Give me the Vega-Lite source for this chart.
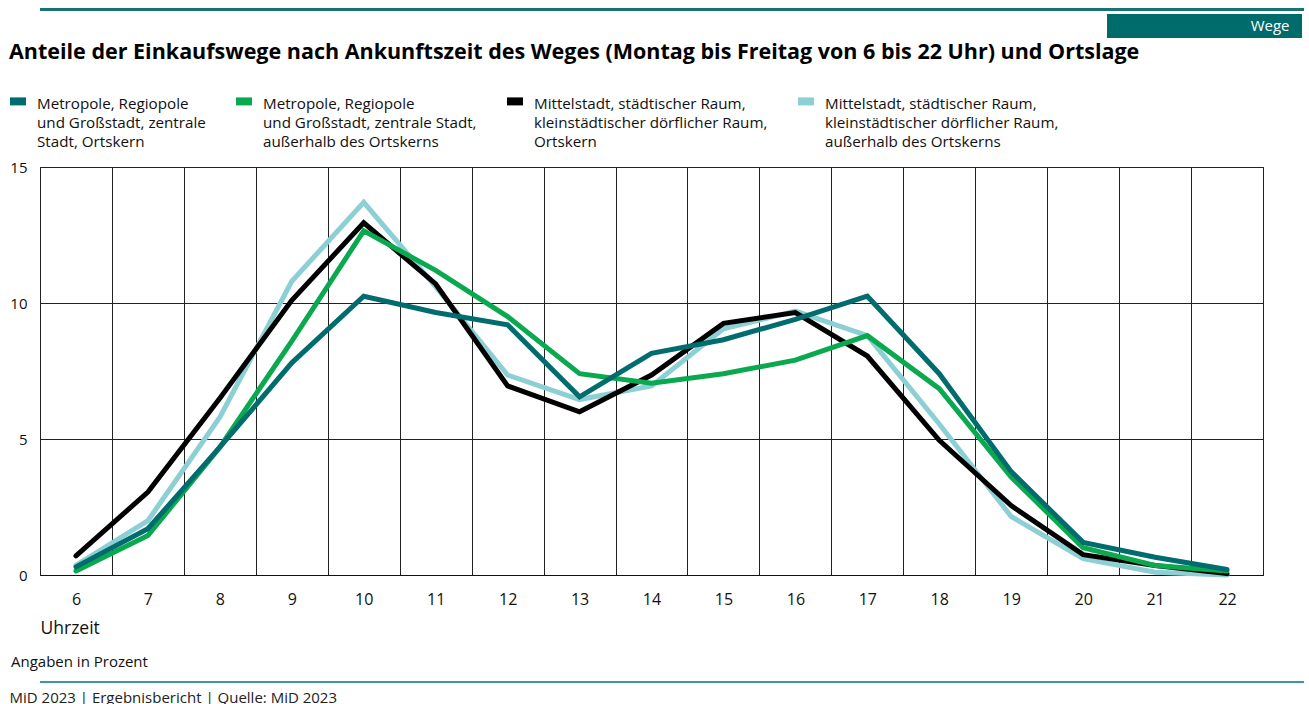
{
  "$schema": "https://vega.github.io/schema/vega-lite/v6.json",
  "padding": {"left": 0, "top": 8, "right": 0, "bottom": 0},
  "background": "white",
  "config": {"font": "Open Sans", "view": {"stroke": null}},
  "datasets": {
    "lines": [
      {"hour": 6, "series": "Mittelstadt, städtischer Raum,|kleinstädtischer dörflicher Raum,|außerhalb des Ortskerns", "value": 0.35},
      {"hour": 7, "series": "Mittelstadt, städtischer Raum,|kleinstädtischer dörflicher Raum,|außerhalb des Ortskerns", "value": 2.0},
      {"hour": 8, "series": "Mittelstadt, städtischer Raum,|kleinstädtischer dörflicher Raum,|außerhalb des Ortskerns", "value": 5.8},
      {"hour": 9, "series": "Mittelstadt, städtischer Raum,|kleinstädtischer dörflicher Raum,|außerhalb des Ortskerns", "value": 10.8},
      {"hour": 10, "series": "Mittelstadt, städtischer Raum,|kleinstädtischer dörflicher Raum,|außerhalb des Ortskerns", "value": 13.7},
      {"hour": 11, "series": "Mittelstadt, städtischer Raum,|kleinstädtischer dörflicher Raum,|außerhalb des Ortskerns", "value": 10.6},
      {"hour": 12, "series": "Mittelstadt, städtischer Raum,|kleinstädtischer dörflicher Raum,|außerhalb des Ortskerns", "value": 7.35},
      {"hour": 13, "series": "Mittelstadt, städtischer Raum,|kleinstädtischer dörflicher Raum,|außerhalb des Ortskerns", "value": 6.45},
      {"hour": 14, "series": "Mittelstadt, städtischer Raum,|kleinstädtischer dörflicher Raum,|außerhalb des Ortskerns", "value": 6.95},
      {"hour": 15, "series": "Mittelstadt, städtischer Raum,|kleinstädtischer dörflicher Raum,|außerhalb des Ortskerns", "value": 9.05},
      {"hour": 16, "series": "Mittelstadt, städtischer Raum,|kleinstädtischer dörflicher Raum,|außerhalb des Ortskerns", "value": 9.7},
      {"hour": 17, "series": "Mittelstadt, städtischer Raum,|kleinstädtischer dörflicher Raum,|außerhalb des Ortskerns", "value": 8.8},
      {"hour": 18, "series": "Mittelstadt, städtischer Raum,|kleinstädtischer dörflicher Raum,|außerhalb des Ortskerns", "value": 5.55},
      {"hour": 19, "series": "Mittelstadt, städtischer Raum,|kleinstädtischer dörflicher Raum,|außerhalb des Ortskerns", "value": 2.15},
      {"hour": 20, "series": "Mittelstadt, städtischer Raum,|kleinstädtischer dörflicher Raum,|außerhalb des Ortskerns", "value": 0.6},
      {"hour": 21, "series": "Mittelstadt, städtischer Raum,|kleinstädtischer dörflicher Raum,|außerhalb des Ortskerns", "value": 0.1},
      {"hour": 22, "series": "Mittelstadt, städtischer Raum,|kleinstädtischer dörflicher Raum,|außerhalb des Ortskerns", "value": 0.0},
      {"hour": 6, "series": "Mittelstadt, städtischer Raum,|kleinstädtischer dörflicher Raum,|Ortskern", "value": 0.7},
      {"hour": 7, "series": "Mittelstadt, städtischer Raum,|kleinstädtischer dörflicher Raum,|Ortskern", "value": 3.05},
      {"hour": 8, "series": "Mittelstadt, städtischer Raum,|kleinstädtischer dörflicher Raum,|Ortskern", "value": 6.5},
      {"hour": 9, "series": "Mittelstadt, städtischer Raum,|kleinstädtischer dörflicher Raum,|Ortskern", "value": 10.1},
      {"hour": 10, "series": "Mittelstadt, städtischer Raum,|kleinstädtischer dörflicher Raum,|Ortskern", "value": 12.95},
      {"hour": 11, "series": "Mittelstadt, städtischer Raum,|kleinstädtischer dörflicher Raum,|Ortskern", "value": 10.7},
      {"hour": 12, "series": "Mittelstadt, städtischer Raum,|kleinstädtischer dörflicher Raum,|Ortskern", "value": 6.95},
      {"hour": 13, "series": "Mittelstadt, städtischer Raum,|kleinstädtischer dörflicher Raum,|Ortskern", "value": 6.0},
      {"hour": 14, "series": "Mittelstadt, städtischer Raum,|kleinstädtischer dörflicher Raum,|Ortskern", "value": 7.35},
      {"hour": 15, "series": "Mittelstadt, städtischer Raum,|kleinstädtischer dörflicher Raum,|Ortskern", "value": 9.25},
      {"hour": 16, "series": "Mittelstadt, städtischer Raum,|kleinstädtischer dörflicher Raum,|Ortskern", "value": 9.65},
      {"hour": 17, "series": "Mittelstadt, städtischer Raum,|kleinstädtischer dörflicher Raum,|Ortskern", "value": 8.05},
      {"hour": 18, "series": "Mittelstadt, städtischer Raum,|kleinstädtischer dörflicher Raum,|Ortskern", "value": 4.95},
      {"hour": 19, "series": "Mittelstadt, städtischer Raum,|kleinstädtischer dörflicher Raum,|Ortskern", "value": 2.55},
      {"hour": 20, "series": "Mittelstadt, städtischer Raum,|kleinstädtischer dörflicher Raum,|Ortskern", "value": 0.75},
      {"hour": 21, "series": "Mittelstadt, städtischer Raum,|kleinstädtischer dörflicher Raum,|Ortskern", "value": 0.35},
      {"hour": 22, "series": "Mittelstadt, städtischer Raum,|kleinstädtischer dörflicher Raum,|Ortskern", "value": 0.05},
      {"hour": 6, "series": "Metropole, Regiopole|und Großstadt, zentrale Stadt,|außerhalb des Ortskerns", "value": 0.15},
      {"hour": 7, "series": "Metropole, Regiopole|und Großstadt, zentrale Stadt,|außerhalb des Ortskerns", "value": 1.45},
      {"hour": 8, "series": "Metropole, Regiopole|und Großstadt, zentrale Stadt,|außerhalb des Ortskerns", "value": 4.7},
      {"hour": 9, "series": "Metropole, Regiopole|und Großstadt, zentrale Stadt,|außerhalb des Ortskerns", "value": 8.6},
      {"hour": 10, "series": "Metropole, Regiopole|und Großstadt, zentrale Stadt,|außerhalb des Ortskerns", "value": 12.65},
      {"hour": 11, "series": "Metropole, Regiopole|und Großstadt, zentrale Stadt,|außerhalb des Ortskerns", "value": 11.2},
      {"hour": 12, "series": "Metropole, Regiopole|und Großstadt, zentrale Stadt,|außerhalb des Ortskerns", "value": 9.5},
      {"hour": 13, "series": "Metropole, Regiopole|und Großstadt, zentrale Stadt,|außerhalb des Ortskerns", "value": 7.4},
      {"hour": 14, "series": "Metropole, Regiopole|und Großstadt, zentrale Stadt,|außerhalb des Ortskerns", "value": 7.05},
      {"hour": 15, "series": "Metropole, Regiopole|und Großstadt, zentrale Stadt,|außerhalb des Ortskerns", "value": 7.4},
      {"hour": 16, "series": "Metropole, Regiopole|und Großstadt, zentrale Stadt,|außerhalb des Ortskerns", "value": 7.9},
      {"hour": 17, "series": "Metropole, Regiopole|und Großstadt, zentrale Stadt,|außerhalb des Ortskerns", "value": 8.8},
      {"hour": 18, "series": "Metropole, Regiopole|und Großstadt, zentrale Stadt,|außerhalb des Ortskerns", "value": 6.85},
      {"hour": 19, "series": "Metropole, Regiopole|und Großstadt, zentrale Stadt,|außerhalb des Ortskerns", "value": 3.6},
      {"hour": 20, "series": "Metropole, Regiopole|und Großstadt, zentrale Stadt,|außerhalb des Ortskerns", "value": 1.0},
      {"hour": 21, "series": "Metropole, Regiopole|und Großstadt, zentrale Stadt,|außerhalb des Ortskerns", "value": 0.35},
      {"hour": 22, "series": "Metropole, Regiopole|und Großstadt, zentrale Stadt,|außerhalb des Ortskerns", "value": 0.15},
      {"hour": 6, "series": "Metropole, Regiopole|und Großstadt, zentrale|Stadt, Ortskern", "value": 0.3},
      {"hour": 7, "series": "Metropole, Regiopole|und Großstadt, zentrale|Stadt, Ortskern", "value": 1.7},
      {"hour": 8, "series": "Metropole, Regiopole|und Großstadt, zentrale|Stadt, Ortskern", "value": 4.7},
      {"hour": 9, "series": "Metropole, Regiopole|und Großstadt, zentrale|Stadt, Ortskern", "value": 7.8},
      {"hour": 10, "series": "Metropole, Regiopole|und Großstadt, zentrale|Stadt, Ortskern", "value": 10.25},
      {"hour": 11, "series": "Metropole, Regiopole|und Großstadt, zentrale|Stadt, Ortskern", "value": 9.65},
      {"hour": 12, "series": "Metropole, Regiopole|und Großstadt, zentrale|Stadt, Ortskern", "value": 9.2},
      {"hour": 13, "series": "Metropole, Regiopole|und Großstadt, zentrale|Stadt, Ortskern", "value": 6.55},
      {"hour": 14, "series": "Metropole, Regiopole|und Großstadt, zentrale|Stadt, Ortskern", "value": 8.15},
      {"hour": 15, "series": "Metropole, Regiopole|und Großstadt, zentrale|Stadt, Ortskern", "value": 8.65},
      {"hour": 16, "series": "Metropole, Regiopole|und Großstadt, zentrale|Stadt, Ortskern", "value": 9.4},
      {"hour": 17, "series": "Metropole, Regiopole|und Großstadt, zentrale|Stadt, Ortskern", "value": 10.25},
      {"hour": 18, "series": "Metropole, Regiopole|und Großstadt, zentrale|Stadt, Ortskern", "value": 7.4},
      {"hour": 19, "series": "Metropole, Regiopole|und Großstadt, zentrale|Stadt, Ortskern", "value": 3.8},
      {"hour": 20, "series": "Metropole, Regiopole|und Großstadt, zentrale|Stadt, Ortskern", "value": 1.2},
      {"hour": 21, "series": "Metropole, Regiopole|und Großstadt, zentrale|Stadt, Ortskern", "value": 0.65},
      {"hour": 22, "series": "Metropole, Regiopole|und Großstadt, zentrale|Stadt, Ortskern", "value": 0.2}
    ]
  },
  "title": {"text": "MiD 2023 | Ergebnisbericht | Quelle: MiD 2023", "orient": "bottom", "anchor": "start", "fontSize": 15, "fontWeight": "normal", "color": "#222", "offset": 8, "dx": 9},
  "spacing": 3,
  "columns": 1,
  "concat": [
    {
      "width": 1264, "height": 3,
      "data": {"values": []},
      "mark": {"type": "point", "opacity": 0},
      "view": {"fill": "#1A7372", "stroke": null}
    },
    {
      "spacing": 0,
      "hconcat": [
        {
          "width": 1067, "height": 24,
          "data": {"values": []},
          "mark": {"type": "point", "opacity": 0},
          "view": {"stroke": null}
        },
        {
          "width": 195, "height": 24,
          "data": {"values": [{"label": "Wege"}]},
          "mark": {"type": "text", "align": "right", "baseline": "middle", "dx": 85, "fontSize": 15, "color": "white"},
          "encoding": {"text": {"field": "label"}},
          "view": {"fill": "#006B6B", "stroke": null}
        }
      ]
    },
    {
      "width": 1223, "height": 408,
      "title": {"text": "Anteile der Einkaufswege nach Ankunftszeit des Weges (Montag bis Freitag von 6 bis 22 Uhr) und Ortslage", "anchor": "start", "fontSize": 21.5, "fontWeight": "bold", "dx": 8, "offset": 97, "color": "#000"},
      "view": {"stroke": "#222"},
      "data": {"name": "lines"},
      "mark": {"type": "line", "strokeWidth": 5, "strokeCap": "round"},
      "encoding": {
        "x": {
          "field": "hour", "type": "ordinal",
          "scale": {"type": "band", "paddingInner": 0, "paddingOuter": 0},
          "bandPosition": 0.5,
          "axis": {"title": "Uhrzeit", "labelAngle": 0, "labelFontSize": 16, "labelColor": "#111", "labelPadding": 16, "ticks": false, "domain": true, "domainColor": "#111", "grid": true, "gridColor": "#222", "gridOpacity": 1, "tickBand": "extent", "titleAnchor": "start", "titleFontSize": 17.5, "titleFontWeight": "normal", "titleColor": "#111", "titlePadding": 12}
        },
        "y": {
          "field": "value", "type": "quantitative",
          "scale": {"domain": [0, 15], "nice": false},
          "axis": {"title": null, "values": [0, 5, 10, 15], "labelFontSize": 15, "labelColor": "#111", "labelPadding": 13, "ticks": false, "domain": false, "grid": true, "gridColor": "#222", "gridOpacity": 1, "minExtent": 39, "maxExtent": 39}
        },
        "color": {
          "field": "series", "type": "nominal",
          "scale": {
            "domain": [
              "Metropole, Regiopole|und Großstadt, zentrale|Stadt, Ortskern",
              "Metropole, Regiopole|und Großstadt, zentrale Stadt,|außerhalb des Ortskerns",
              "Mittelstadt, städtischer Raum,|kleinstädtischer dörflicher Raum,|Ortskern",
              "Mittelstadt, städtischer Raum,|kleinstädtischer dörflicher Raum,|außerhalb des Ortskerns"
            ],
            "range": ["#006C6E", "#0AA84F", "#000000", "#8CCFD4"]
          },
          "legend": {
            "orient": "none", "legendX": -30, "legendY": 85, "direction": "horizontal", "columns": 4, "title": null,
            "labelFontSize": 15.2, "labelColor": "#111", "labelLimit": 400, "columnPadding": 30,
            "symbolType": "M-1,-0.5H1V0.5H-1Z", "symbolSize": 256, "symbolStrokeWidth": 0, "labelOffset": 11,
            "labelBaseline": "top", "labelExpr": "split(datum.label, '|')", "padding": 0,
            "encode": {
              "symbols": {"update": {"fill": {"scale": "color", "field": "value"}, "stroke": {"value": "transparent"}}},
              "labels": {"update": {"lineHeight": {"value": 19}, "dy": {"value": -4}}}
            }
          }
        }
      }
    },
    {
      "width": 1264, "height": 2,
      "data": {"values": []},
      "mark": {"type": "point", "opacity": 0},
      "view": {"fill": "#3C9A9A", "stroke": null},
      "title": {"text": ["", "Angaben in Prozent"], "lineHeight": 15, "anchor": "start", "fontSize": 15, "fontWeight": "normal", "color": "#111", "dx": -29, "offset": 11}
    }
  ]
}
